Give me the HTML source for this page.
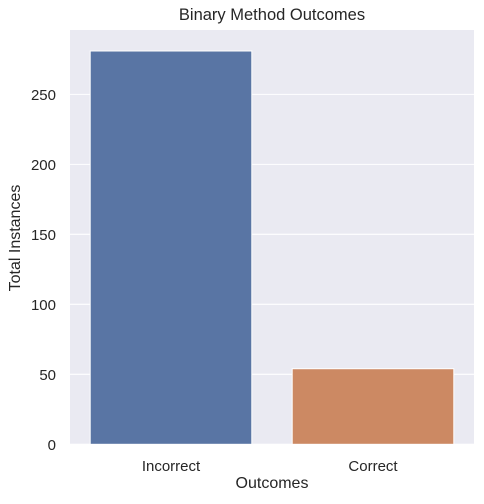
<!DOCTYPE html>
<html><head><meta charset="utf-8"><style>body{margin:0;background:#fff}svg{display:block;font-family:"Liberation Sans",sans-serif}</style></head>
<body>
<svg id="chart" width="484" height="504"></svg>
<script>
const categories = ["Incorrect", "Correct"];
const values = [281, 54];
const yTicks = [0, 50, 100, 150, 200, 250];
const colors = ["#5975a4", "#cc8963"];
const NS = "http://www.w3.org/2000/svg";
const svg = document.getElementById("chart");
const L = 70, R = 474, T = 30, B = 444.3, yMax = 296;
const y = v => B - v / yMax * (B - T);
const band = (R - L) / categories.length;
const xc = i => L + band * (i + 0.5);
function mk(tag, attrs, parent) { const e = document.createElementNS(NS, tag); for (const k in attrs) e.setAttribute(k, attrs[k]); (parent || svg).appendChild(e); return e; }
const bg = mk("rect", {x: L, y: T, width: R - L, height: B - T, fill: "#eaeaf2"});


yTicks.forEach(t => {
  const g = mk("line", {x1: L, x2: R, y1: y(t), y2: y(t), stroke: "#fff", "stroke-width": 1.1});
  
  
  const tx = mk("text", {x: L - 14, y: y(t) + 5.5, "text-anchor": "end", "font-size": 15, fill: "#262626"});
  tx.textContent = t;
  
  
});
categories.forEach((c, i) => {
  const w = band * 0.8;
  const r = mk("rect", {x: xc(i) - w / 2, y: y(values[i]), width: w, height: y(0) - y(values[i]), fill: colors[i], stroke: "#fff", "stroke-width": 1});
  
  
  const tx = mk("text", {x: xc(i), y: 471, "text-anchor": "middle", "font-size": 15, fill: "#262626"});
  tx.textContent = c;
  
  
});
</script>
<div style="position:absolute;left:0;top:0;width:484px;height:504px;pointer-events:none;font-family:'Liberation Sans',sans-serif;color:#262626">
<div style="position:absolute;left:70px;width:404px;top:6px;text-align:center;font-size:16.5px">Binary Method Outcomes</div>
<div style="position:absolute;left:70px;width:404px;top:475px;text-align:center;font-size:16px">Outcomes</div>
<div style="position:absolute;left:16px;top:238px;transform:translate(-50%,-50%) rotate(-90deg);white-space:nowrap;font-size:16px">Total Instances</div>
</div>
</body></html>
